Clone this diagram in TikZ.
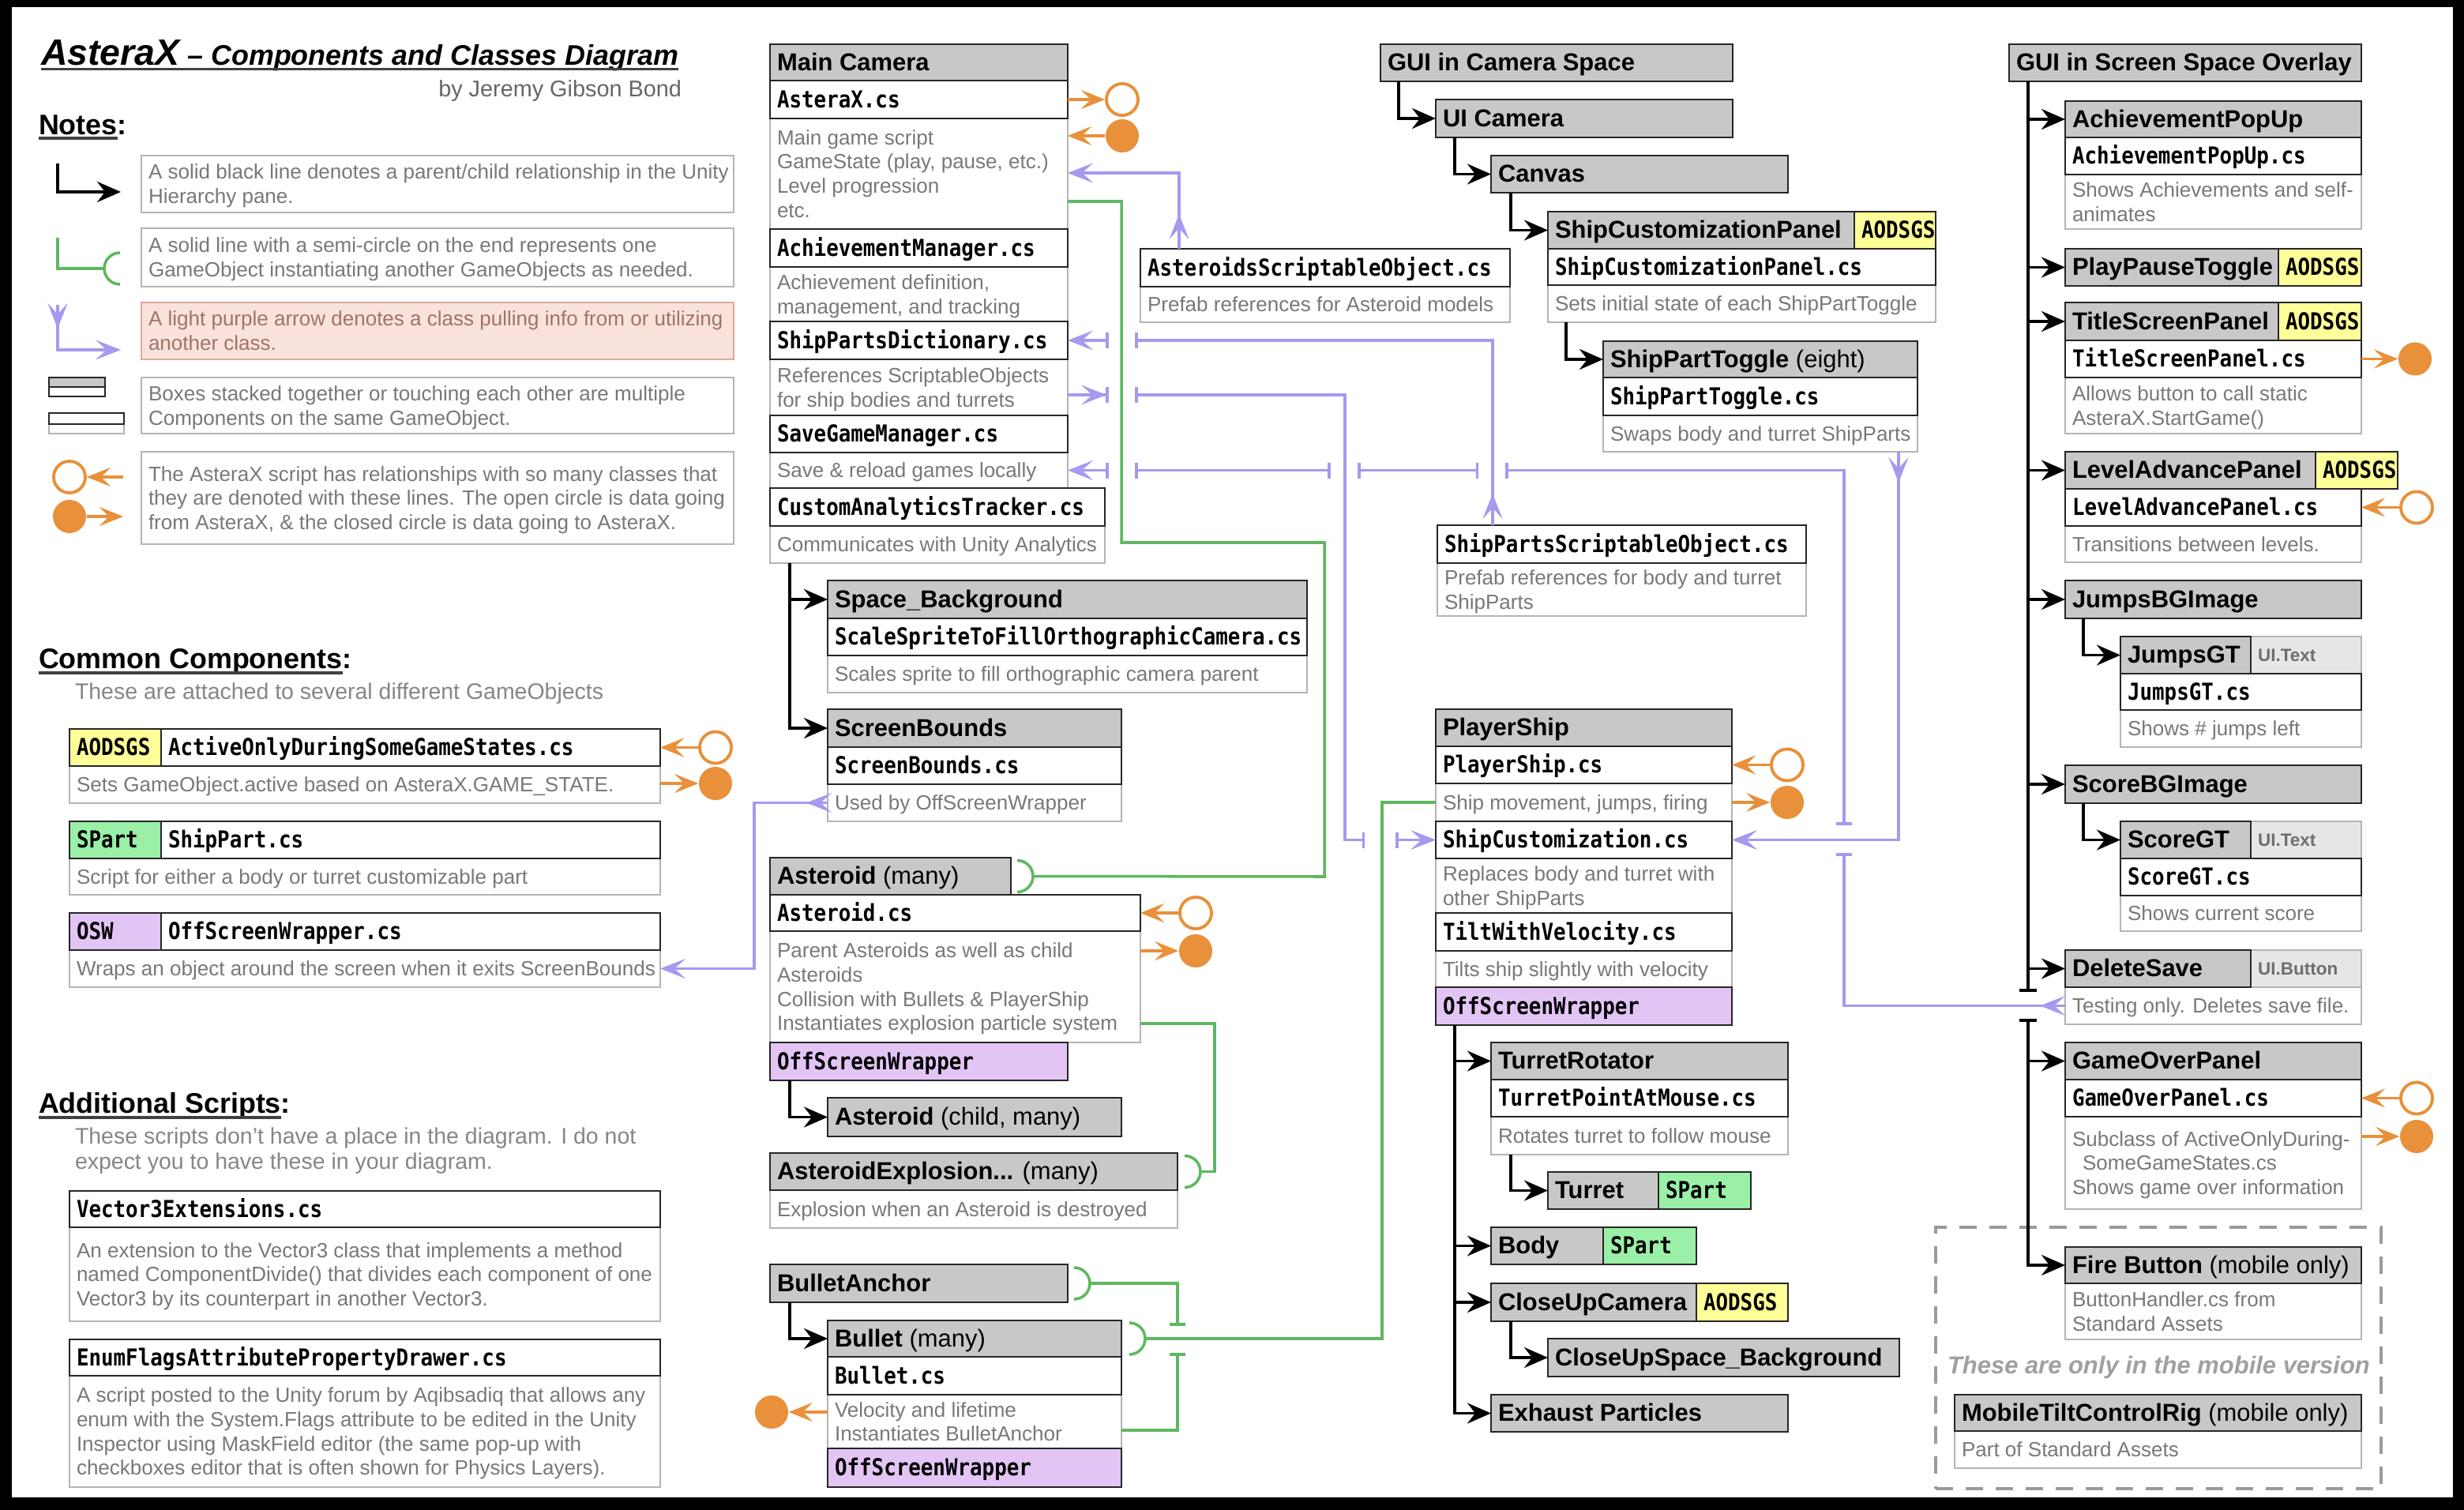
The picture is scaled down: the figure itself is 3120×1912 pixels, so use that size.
\documentclass[tikz,border=0pt]{standalone}
\usepackage{fontspec}
\setmainfont{Liberation Sans}
\newfontfamily\codefont[FakeStretch=0.875]{DejaVu Sans Mono}
\usetikzlibrary{arrows.meta,calc}

\definecolor{hdrgray}{HTML}{C8C8C8}
\definecolor{boxline}{HTML}{262626}
\definecolor{descline}{HTML}{B4B4B4}
\definecolor{desctext}{HTML}{787878}
\definecolor{tagyellow}{HTML}{FFFF99}
\definecolor{taggreen}{HTML}{9AF0A6}
\definecolor{tagpurple}{HTML}{E3C5F5}
\definecolor{uitag}{HTML}{E6E6E6}
\definecolor{uitext}{HTML}{6E6E6E}
\definecolor{arrpurple}{HTML}{A898EE}
\definecolor{linegreen}{HTML}{5DB85F}
\definecolor{dataorange}{HTML}{E8903A}
\definecolor{notefill}{HTML}{F9E2DC}
\definecolor{noteline}{HTML}{DDAA9E}
\definecolor{notetext}{HTML}{A07468}
\definecolor{subgray}{HTML}{868686}
\definecolor{bygray}{HTML}{666666}
\definecolor{mobgray}{HTML}{A0A0A0}
\definecolor{dashgray}{HTML}{9A9A9A}

\newcommand\hdrf{\fontsize{8.8}{10}\selectfont\bfseries}
\newcommand\codef{\codefont\fontsize{8.4}{9.8}\selectfont\bfseries}
\newcommand\descf{\fontsize{7.4}{8.7}\selectfont}
\newcommand\uif{\fontsize{6.4}{7.5}\selectfont\bfseries}
\newcommand\headf{\fontsize{10.2}{12}\selectfont\bfseries}
\newcommand\subf{\fontsize{8.1}{9.5}\selectfont}
\newcommand\mobf{\fontsize{8.8}{10}\selectfont\bfseries\itshape}

% box given by its corners (x1,y1) and (x2,y2), text left aligned
\newcommand\mkbox[7][]{%
  \pgfmathsetlengthmacro\mkw{((#5)-(#3))*0.01cm}%
  \pgfmathsetlengthmacro\mkh{((#6)-(#4))*0.01cm}%
  \pgfmathsetlengthmacro\mkt{\mkw-0.18cm}%
  \node[anchor=north west, minimum width=\mkw, minimum height=\mkh,
        inner xsep=0.09cm, inner ysep=0pt, outer sep=0pt, #1] (#2) at (#3,#4)
   {\raisebox{-0.9pt}[\height][\depth]{\makebox[\mkt][l]{\begin{tabular}{@{}l@{}}#7\end{tabular}}}};%
}
% empty box given by its corners
\newcommand\mkrect[6][]{%
  \pgfmathsetlengthmacro\mkw{((#5)-(#3))*0.01cm}%
  \pgfmathsetlengthmacro\mkh{((#6)-(#4))*0.01cm}%
  \node[anchor=north west, minimum width=\mkw, minimum height=\mkh,
        inner sep=0pt, outer sep=0pt, #1] (#2) at (#3,#4) {};%
}

\tikzset{
  hbox/.style={draw=boxline, line width=0.75pt, fill=hdrgray, font=\hdrf},
  cbox/.style={draw=boxline, line width=0.75pt, fill=white, font=\codef},
  dbox/.style={draw=descline, line width=0.65pt, fill=white, font=\descf, text=desctext},
  notepk/.style={dbox, fill=notefill, draw=noteline, text=notetext},
  yel/.style={cbox, fill=tagyellow},
  grn/.style={cbox, fill=taggreen},
  pur/.style={cbox, fill=tagpurple},
  uit/.style={draw=descline, line width=0.65pt, fill=uitag, font=\uif, text=uitext},
  dashbox/.style={draw=dashgray, line width=1.1pt, dash pattern=on 0.22cm off 0.16cm},
  blk/.style={draw=black, line width=1.1pt, -{Stealth[length=0.3cm,width=0.26cm,inset=0.1cm]}},
  blkbar/.style={draw=black, line width=1.1pt, {Bar[width=0.22cm]}-{Stealth[length=0.3cm,width=0.26cm,inset=0.1cm]}},
  blkend/.style={draw=black, line width=1.1pt, -{Bar[width=0.22cm]}},
  ppl/.style={draw=arrpurple, line width=1pt},
  pe/.style={-{Stealth[length=0.32cm,width=0.25cm,inset=0.14cm]}},
  be/.style={-{Bar[width=0.2cm]}},
  bs/.style={{Bar[width=0.2cm]}-},
  bb/.style={{Bar[width=0.2cm]}-{Bar[width=0.2cm]}},
  bspe/.style={{Bar[width=0.2cm]}-{Stealth[length=0.32cm,width=0.25cm,inset=0.14cm]}},
  gln/.style={draw=linegreen, line width=1pt},
  ocirc/.style={circle, minimum size=0.4cm, inner sep=0pt, draw=dataorange, line width=1.1pt, fill=white},
  fcirc/.style={circle, minimum size=0.42cm, inner sep=0pt, fill=dataorange},
  oarr/.style={draw=dataorange, line width=1pt, -{Stealth[length=0.3cm,width=0.24cm,inset=0.12cm]}},
  uline/.style={draw=black!75, line width=0.9pt},
  txt/.style={inner sep=0pt, outer sep=0pt},
}

\begin{document}
\begin{tikzpicture}[x=0.01cm, y=-0.01cm]
\useasboundingbox (0,0) rectangle (3120,1912);
\fill[black] (0,0) rectangle (3120,1912);
\fill[white] (15,9) rectangle (3106,1896);

%% ---------- title and notes ----------
\node[txt, anchor=base west, font=\bfseries\itshape] (title) at (52,83)
  {{\fontsize{13.2}{15}\selectfont AsteraX}\fontsize{10.2}{12}\selectfont\ -- Components and Classes Diagram};
\draw[uline] ($(title.base west)+(0,4.5)$) -- ($(title.base east)+(0,4.5)$);
\node[txt, anchor=base east, font=\fontsize{8.2}{10}\selectfont, text=bygray] (by) at (863,122) {by Jeremy Gibson Bond};

\node[txt, anchor=base west, font=\headf] (notes) at (49,170) {Notes};
\node[txt, anchor=base west, font=\headf] (notesc) at (notes.base east) {:};
\draw[uline] ($(notes.base west)+(0,5)$) -- ($(notes.base east)+(0,5)$);

\mkbox[dbox]{n1}{179}{197}{929}{269}{A solid black line denotes a parent/child relationship in the Unity\\Hierarchy pane.}
\mkbox[dbox]{n2}{179}{289}{929}{363}{A solid line with a semi-circle on the end represents one\\GameObject instantiating another GameObjects as needed.}
\mkbox[notepk]{n3}{179}{383}{929}{455}{A light purple arrow denotes a class pulling info from or utilizing\\another class.}
\mkbox[dbox]{n4}{179}{478}{929}{549}{Boxes stacked together or touching each other are multiple\\Components on the same GameObject.}
\mkbox[dbox]{n5}{179}{572}{929}{689}{The AsteraX script has relationships with so many classes that\\they are denoted with these lines. The open circle is data going\\from AsteraX, \& the closed circle is data going to AsteraX.}

% legend symbols
\coordinate (lgA) at (73,207); \coordinate (lgB) at (153,243);
\draw[blk] (lgA) |- (lgB);
\coordinate (lgC) at (73,301); \coordinate (lgD) at (132,340);
\draw[gln] (lgC) |- (lgD);
\draw[gln] (152,320) arc[start angle=90, end angle=270, radius=0.2cm];
\coordinate (lgE) at (73,386); \coordinate (lgF) at (153,443);
\draw[ppl, pe] (lgE) |- (lgF);
\draw[ppl, pe] (lgE) -- ++(0,30);
\mkrect[dbox]{ic4}{62}{537}{157}{549}
\mkrect[hbox]{ic1}{62}{478}{133}{490}
\mkrect[cbox]{ic2}{62}{490}{133}{502}
\mkrect[cbox]{ic3}{62}{523}{157}{537}
\node[ocirc] (lgO) at (88,604) {}; \coordinate (lgOe) at (156,604);
\draw[oarr] (lgOe) -- (lgO.east);
\node[fcirc] (lgX) at (88,654) {}; \coordinate (lgXe) at (156,654);
\draw[oarr] (lgX.east) -- (lgXe);

%% ---------- common components ----------
\node[txt, anchor=base west, font=\headf] (common) at (49,846) {Common Components};
\node[txt, anchor=base west, font=\headf] (commonc) at (common.base east) {:};
\draw[uline] ($(common.base west)+(0,6)$) -- ($(common.base east)+(0,6)$);
\node[txt, anchor=base west, font=\subf, text=subgray] (cct) at (95,885) {These are attached to several different GameObjects};

\mkbox[dbox]{aodd}{88}{970}{836}{1017}{Sets GameObject.active based on AsteraX.GAME\_STATE.}
\mkbox[yel]{aodt}{88}{923}{204}{970}{AODSGS}
\mkbox[cbox]{aodcs}{204}{923}{836}{970}{ActiveOnlyDuringSomeGameStates.cs}
\mkbox[dbox]{sprtd}{88}{1087}{836}{1133}{Script for either a body or turret customizable part}
\mkbox[grn]{sprtt}{88}{1040}{204}{1087}{SPart}
\mkbox[cbox]{sprtcs}{204}{1040}{836}{1087}{ShipPart.cs}
\mkbox[dbox]{oswd}{88}{1203}{836}{1250}{Wraps an object around the screen when it exits ScreenBounds}
\mkbox[pur]{oswt}{88}{1156}{204}{1203}{OSW}
\mkbox[cbox]{oswcs}{204}{1156}{836}{1203}{OffScreenWrapper.cs}

%% ---------- additional scripts ----------
\node[txt, anchor=base west, font=\headf] (addl) at (49,1409) {Additional Scripts};
\node[txt, anchor=base west, font=\headf] (addlc) at (addl.base east) {:};
\draw[uline] ($(addl.base west)+(0,6)$) -- ($(addl.base east)+(0,6)$);
\node[txt, anchor=base west, font=\subf, text=subgray] (adt1) at (95,1448) {These scripts don't have a place in the diagram. I do not};
\node[txt, anchor=base west, font=\subf, text=subgray] (adt2) at (95,1480) {expect you to have these in your diagram.};

\mkbox[dbox]{v3d}{88}{1554}{836}{1673}{An extension to the Vector3 class that implements a method\\named ComponentDivide() that divides each component of one\\Vector3 by its counterpart in another Vector3.}
\mkbox[cbox]{v3}{88}{1508}{836}{1554}{Vector3Extensions.cs}
\mkbox[dbox]{efd}{88}{1742}{836}{1883}{A script posted to the Unity forum by Aqibsadiq that allows any\\enum with the System.Flags attribute to be edited in the Unity\\Inspector using MaskField editor (the same pop-up with\\checkboxes editor that is often shown for Physics Layers).}
\mkbox[cbox]{ef}{88}{1696}{836}{1742}{EnumFlagsAttributePropertyDrawer.cs}

%% ---------- Main Camera hierarchy ----------
\mkbox[dbox]{axd}{975}{150}{1352}{290}{Main game script\\GameState (play, pause, etc.)\\Level progression\\etc.}
\mkbox[dbox]{amd}{975}{338}{1352}{407}{Achievement definition,\\management, and tracking}
\mkbox[dbox]{spdd}{975}{455}{1352}{526}{References ScriptableObjects\\for ship bodies and turrets}
\mkbox[dbox]{sgmd}{975}{573}{1352}{618}{Save \& reload games locally}
\mkbox[dbox]{catd}{975}{666}{1399}{713}{Communicates with Unity Analytics}
\mkbox[hbox]{mc}{975}{56}{1352}{102}{Main Camera}
\mkbox[cbox]{axcs}{975}{102}{1352}{150}{AsteraX.cs}
\mkbox[cbox]{amcs}{975}{290}{1352}{338}{AchievementManager.cs}
\mkbox[cbox]{spd}{975}{407}{1352}{455}{ShipPartsDictionary.cs}
\mkbox[cbox]{sgm}{975}{526}{1352}{573}{SaveGameManager.cs}
\mkbox[cbox]{cat}{975}{618}{1399}{666}{CustomAnalyticsTracker.cs}

\mkbox[dbox]{asod}{1444}{363}{1912}{408}{Prefab references for Asteroid models}
\mkbox[cbox]{aso}{1444}{315}{1912}{363}{AsteroidsScriptableObject.cs}

\mkbox[dbox]{sbgd}{1048}{830}{1655}{877}{Scales sprite to fill orthographic camera parent}
\mkbox[hbox]{sbg}{1048}{735}{1655}{783}{Space\_Background}
\mkbox[cbox]{sscs}{1048}{783}{1655}{830}{ScaleSpriteToFillOrthographicCamera.cs}
\mkbox[dbox]{sbd}{1048}{993}{1420}{1040}{Used by OffScreenWrapper}
\mkbox[hbox]{sb}{1048}{898}{1420}{946}{ScreenBounds}
\mkbox[cbox]{sbcs}{1048}{946}{1420}{993}{ScreenBounds.cs}

\mkbox[dbox]{astd}{975}{1179}{1444}{1320}{Parent Asteroids as well as child\\Asteroids\\Collision with Bullets \& PlayerShip\\Instantiates explosion particle system}
\mkbox[hbox]{ast}{975}{1086}{1280}{1133}{Asteroid \mdseries(many)}
\mkbox[cbox]{astcs}{975}{1133}{1444}{1179}{Asteroid.cs}
\mkbox[pur]{aosw}{975}{1320}{1352}{1368}{OffScreenWrapper}
\mkbox[hbox]{astc}{1048}{1390}{1420}{1439}{Asteroid \mdseries(child, many)}
\mkbox[dbox]{aexpd}{975}{1507}{1491}{1555}{Explosion when an Asteroid is destroyed}
\mkbox[hbox]{aexp}{975}{1460}{1491}{1507}{AsteroidExplosion... \mdseries(many)}
\mkbox[hbox]{ba}{975}{1601}{1352}{1649}{BulletAnchor}
\mkbox[dbox]{buld}{1048}{1766}{1420}{1834}{Velocity and lifetime\\Instantiates BulletAnchor}
\mkbox[hbox]{bul}{1048}{1672}{1420}{1718}{Bullet \mdseries(many)}
\mkbox[cbox]{bulcs}{1048}{1718}{1420}{1766}{Bullet.cs}
\mkbox[pur]{bosw}{1048}{1834}{1420}{1883}{OffScreenWrapper}

%% ---------- GUI in Camera Space ----------
\mkbox[hbox]{gcs}{1748}{56}{2194}{103}{GUI in Camera Space}
\mkbox[hbox]{uic}{1818}{126}{2194}{174}{UI Camera}
\mkbox[hbox]{cnv}{1888}{197}{2264}{244}{Canvas}
\mkbox[dbox]{scpd}{1960}{361}{2451}{408}{Sets initial state of each ShipPartToggle}
\mkbox[hbox]{scp}{1960}{268}{2348}{315}{ShipCustomizationPanel}
\mkbox[yel]{scpt}{2348}{268}{2451}{315}{AODSGS}
\mkbox[cbox]{scpcs}{1960}{315}{2451}{361}{ShipCustomizationPanel.cs}
\mkbox[dbox]{sptd}{2030}{526}{2428}{572}{Swaps body and turret ShipParts}
\mkbox[hbox]{spt}{2030}{432}{2428}{478}{ShipPartToggle \mdseries(eight)}
\mkbox[cbox]{sptcs}{2030}{478}{2428}{526}{ShipPartToggle.cs}
\mkbox[dbox]{spsod}{1820}{713}{2287}{780}{Prefab references for body and turret\\ShipParts}
\mkbox[cbox]{spso}{1820}{665}{2287}{713}{ShipPartsScriptableObject.cs}

%% ---------- PlayerShip hierarchy ----------
\mkbox[dbox]{psd}{1818}{992}{2193}{1040}{Ship movement, jumps, firing}
\mkbox[dbox]{scd}{1818}{1087}{2193}{1156}{Replaces body and turret with\\other ShipParts}
\mkbox[dbox]{tvd}{1818}{1204}{2193}{1250}{Tilts ship slightly with velocity}
\mkbox[hbox]{ps}{1818}{898}{2193}{945}{PlayerShip}
\mkbox[cbox]{pscs}{1818}{945}{2193}{992}{PlayerShip.cs}
\mkbox[cbox]{sc}{1818}{1040}{2193}{1087}{ShipCustomization.cs}
\mkbox[cbox]{tv}{1818}{1156}{2193}{1204}{TiltWithVelocity.cs}
\mkbox[pur]{posw}{1818}{1250}{2193}{1298}{OffScreenWrapper}
\mkbox[dbox]{trd}{1888}{1414}{2264}{1462}{Rotates turret to follow mouse}
\mkbox[hbox]{tr}{1888}{1320}{2264}{1367}{TurretRotator}
\mkbox[cbox]{tpcs}{1888}{1367}{2264}{1414}{TurretPointAtMouse.cs}
\mkbox[hbox]{tur}{1960}{1484}{2100}{1531}{Turret}
\mkbox[grn]{turt}{2100}{1484}{2217}{1531}{SPart}
\mkbox[hbox]{body}{1888}{1554}{2030}{1601}{Body}
\mkbox[grn]{bodyt}{2030}{1554}{2148}{1601}{SPart}
\mkbox[hbox]{cuc}{1888}{1625}{2148}{1673}{CloseUpCamera}
\mkbox[yel]{cuct}{2148}{1625}{2264}{1673}{AODSGS}
\mkbox[hbox]{cusb}{1960}{1695}{2405}{1743}{CloseUpSpace\_Background}
\mkbox[hbox]{exh}{1888}{1766}{2264}{1813}{Exhaust Particles}

%% ---------- GUI in Screen Space Overlay ----------
\mkrect[dashbox]{mob}{2451}{1554}{3015}{1885}
\mkbox[hbox]{gso}{2544}{56}{2990}{103}{GUI in Screen Space Overlay}
\mkbox[dbox]{apud}{2615}{221}{2990}{290}{Shows Achievements and self-\\animates}
\mkbox[hbox]{apu}{2615}{128}{2990}{174}{AchievementPopUp}
\mkbox[cbox]{apucs}{2615}{174}{2990}{221}{AchievementPopUp.cs}
\mkbox[hbox]{ppt}{2615}{315}{2885}{362}{PlayPauseToggle}
\mkbox[yel]{pptt}{2885}{315}{2990}{362}{AODSGS}
\mkbox[dbox]{tspd}{2615}{478}{2990}{549}{Allows button to call static\\AsteraX.StartGame()}
\mkbox[hbox]{tsp}{2615}{383}{2885}{431}{TitleScreenPanel}
\mkbox[yel]{tspt}{2885}{383}{2990}{431}{AODSGS}
\mkbox[cbox]{tspcs}{2615}{431}{2990}{478}{TitleScreenPanel.cs}
\mkbox[dbox]{lapd}{2615}{666}{2990}{712}{Transitions between levels.}
\mkbox[hbox]{lap}{2615}{572}{2932}{619}{LevelAdvancePanel}
\mkbox[yel]{lapt}{2932}{572}{3036}{619}{AODSGS}
\mkbox[cbox]{lapcs}{2615}{619}{2990}{666}{LevelAdvancePanel.cs}
\mkbox[hbox]{jbg}{2615}{735}{2990}{783}{JumpsBGImage}
\mkbox[dbox]{jgtd}{2685}{899}{2990}{946}{Shows \# jumps left}
\mkbox[uit]{jgtt}{2850}{806}{2990}{853}{UI.Text}
\mkbox[hbox]{jgt}{2685}{806}{2850}{853}{JumpsGT}
\mkbox[cbox]{jgtcs}{2685}{853}{2990}{899}{JumpsGT.cs}
\mkbox[hbox]{sbi}{2615}{969}{2990}{1017}{ScoreBGImage}
\mkbox[dbox]{sgtd}{2685}{1134}{2990}{1179}{Shows current score}
\mkbox[uit]{sgtt}{2850}{1040}{2990}{1087}{UI.Text}
\mkbox[hbox]{sgt}{2685}{1040}{2850}{1087}{ScoreGT}
\mkbox[cbox]{sgtcs}{2685}{1087}{2990}{1134}{ScoreGT.cs}
\mkbox[dbox]{dsd}{2615}{1250}{2990}{1297}{Testing only. Deletes save file.}
\mkbox[uit]{dst}{2850}{1203}{2990}{1250}{UI.Button}
\mkbox[hbox]{ds}{2615}{1203}{2850}{1250}{DeleteSave}
\mkbox[dbox]{gopd}{2615}{1414}{2990}{1531}{Subclass of ActiveOnlyDuring-\\\hspace*{0.13cm}SomeGameStates.cs\\Shows game over information}
\mkbox[hbox]{gop}{2615}{1320}{2990}{1367}{GameOverPanel}
\mkbox[cbox]{gopcs}{2615}{1367}{2990}{1414}{GameOverPanel.cs}
\mkbox[dbox]{fbd}{2615}{1625}{2990}{1696}{ButtonHandler.cs from\\Standard Assets}
\mkbox[hbox]{fb}{2615}{1579}{2990}{1625}{Fire Button \mdseries(mobile only)}
\node[txt, anchor=base west, font=\mobf, text=mobgray] (mobt) at (2466,1739) {These are only in the mobile version};
\mkbox[dbox]{mtcd}{2475}{1812}{2990}{1859}{Part of Standard Assets}
\mkbox[hbox]{mtc}{2475}{1766}{2990}{1812}{MobileTiltControlRig \mdseries(mobile only)}

%% ---------- parent / child links ----------
\coordinate (mcT) at ($(catd.south west)+(25,0)$);
\draw[blk] (mcT) |- (sbg.west);
\draw[blk] (mcT) |- (sb.west);
\draw[blk] ($(aosw.south west)+(25,0)$) |- (astc.west);
\draw[blk] ($(ba.south west)+(25,0)$) |- (bul.west);
\draw[blk] ($(gcs.south west)+(23,0)$) |- (uic.west);
\draw[blk] ($(uic.south west)+(24,0)$) |- (cnv.west);
\draw[blk] ($(cnv.south west)+(25,0)$) |- (scp.west);
\draw[blk] ($(scpd.south west)+(23,0)$) |- (spt.west);
\coordinate (psT) at ($(posw.south west)+(24,0)$);
\draw[blk] (psT) |- (tr.west);
\draw[blk] (psT) |- (body.west);
\draw[blk] (psT) |- (cuc.west);
\draw[blk] (psT) |- (exh.west);
\draw[blk] ($(trd.south west)+(25,0)$) |- (tur.west);
\draw[blk] ($(cuc.south west)+(25,0)$) |- (cusb.west);
\coordinate (gsoT) at ($(gso.south west)+(24,0)$);
\draw[blk] (gsoT) |- (apu.west);
\draw[blk] (gsoT) |- (ppt.west);
\draw[blk] (gsoT) |- (tsp.west);
\draw[blk] (gsoT) |- (lap.west);
\draw[blk] (gsoT) |- (jbg.west);
\draw[blk] (gsoT) |- (sbi.west);
\draw[blk] (gsoT) |- (ds.west);
\draw[blkend] (gsoT) -- (2568,1256);
\coordinate (gsoL) at (2568,1290);
\draw[blkbar] (gsoL) |- (gop.west);
\draw[blkbar] (gsoL) |- (fb.west);
\draw[blk] ($(jbg.south west)+(23,0)$) |- (jgt.west);
\draw[blk] ($(sbi.south west)+(23,0)$) |- (sgt.west);

%% ---------- instantiation links ----------
\coordinate (cupA) at ($(ast.east)+(8,0)$);
\coordinate (cupE) at ($(aexp.east)+(9,0)$);
\coordinate (cupB) at ($(ba.east)+(8,0)$);
\coordinate (cupU) at ($(bul.east)+(10,0)$);
\foreach \c in {cupA,cupE,cupB,cupU}
  \draw[gln] ($(\c)+(0,-20)$) arc[start angle=90, end angle=-90, radius=0.2cm];
\draw[gln] ($(axd.north east)+(0,105)$) -| (1420,687) -| (1677,1110) -- ($(cupA)+(20,0)$);
\draw[gln] ($(astd.south east)+(0,-24)$) -| ($(cupE)+(38,0)$) -- ($(cupE)+(20,0)$);
\draw[gln] (psd.west) -| (1750,1695) -- ($(cupU)+(20,0)$);
\draw[gln, be] ($(buld.east)+(0,11)$) -| (1491,1713);
\draw[gln, bs] (1491,1679) |- ($(cupB)+(20,0)$);

%% ---------- class usage links ----------
% AsteroidsScriptableObject -> AsteraX
\draw[ppl, pe] ($(aso.north west)+(49,0)$) |- ($(axd.north east)+(0,69)$);
\draw[ppl, pe] ($(aso.north west)+(49,0)$) -- ++(0,-44);
% ShipPartsScriptableObject -> ShipPartsDictionary
\draw[ppl, be] ($(spso.north west)+(70,0)$) |- (1437,431);
\draw[ppl, pe] ($(spso.north west)+(70,0)$) -- ++(0,-40);
\draw[ppl, bspe] (1404,431) -- (spd.east);
% ShipPartsDictionary -> ShipCustomization
\coordinate (p3a) at ($(spdd.north east)+(0,45)$);
\draw[ppl, be] (p3a) -- ++(52,0);
\draw[ppl, pe] (p3a) -- ++(49,0);
\draw[ppl, bb] (1437,500) -| (1703,1063.5) -- (1728,1063.5);
\draw[ppl, bspe] (1767,1063.5) -- (sc.west);
% DeleteSave -> SaveGameManager
\draw[ppl, pe] (dsd.west) -- ++(-32,0);
\draw[ppl, be] (dsd.west) -| (2335,1080);
\draw[ppl, bb] (2335,1045) |- (1906,595.5);
\draw[ppl, bb] (1872,595.5) -- (1719,595.5);
\draw[ppl, bb] (1685,595.5) -- (1437,595.5);
\draw[ppl, bspe] (1404,595.5) -- (sgmd.east);
% ShipPartToggle -> ShipCustomization
\coordinate (p5a) at ($(sptd.south west)+(374,0)$);
\draw[ppl, pe] (p5a) |- (sc.east);
\draw[ppl, pe] (p5a) -- ++(0,39);
% ScreenBounds -> OffScreenWrapper
\draw[ppl, pe] (sbd.west) -| ($(oswd.east)+(119,0)$) -- (oswd.east);
\draw[ppl, pe] (sbd.west) -- ++(-27,0);

%% ---------- AsteraX data links ----------
\node[ocirc] (oAX) at (1421,126) {};
\node[fcirc] (fAX) at (1421,172) {};
\draw[oarr] (axcs.east) -- (oAX.west);
\draw[oarr] (fAX.west) -- (fAX.west -| axd.east);
\node[ocirc] (oAO) at (906,946.5) {};
\node[fcirc] (fAO) at (906,992) {};
\draw[oarr] (oAO.west) -- (aodcs.east);
\draw[oarr] (fAO.west -| aodd.east) -- (fAO.west);
\node[ocirc] (oAS) at (1514,1156) {};
\node[fcirc] (fAS) at (1514,1204) {};
\draw[oarr] (oAS.west) -- (astcs.east);
\draw[oarr] (fAS.west -| astd.east) -- (fAS.west);
\node[fcirc] (fBU) at (977,1788) {};
\draw[oarr] (fBU.east -| buld.west) -- (fBU.east);
\node[ocirc] (oPS) at (2263,968.5) {};
\node[fcirc] (fPS) at (2263,1016) {};
\draw[oarr] (oPS.west) -- (pscs.east);
\draw[oarr] (psd.east) -- (fPS.west);
\node[fcirc] (fTS) at (3058,454.5) {};
\draw[oarr] (tspcs.east) -- (fTS.west);
\node[ocirc] (oLA) at (3060,642.5) {};
\draw[oarr] (oLA.west) -- (lapcs.east);
\node[ocirc] (oGO) at (3060,1390.5) {};
\node[fcirc] (fGO) at (3060,1439) {};
\draw[oarr] (oGO.west) -- (gopcs.east);
\draw[oarr] (fGO.west -| gopd.east) -- (fGO.west);
\end{tikzpicture}
\end{document}
